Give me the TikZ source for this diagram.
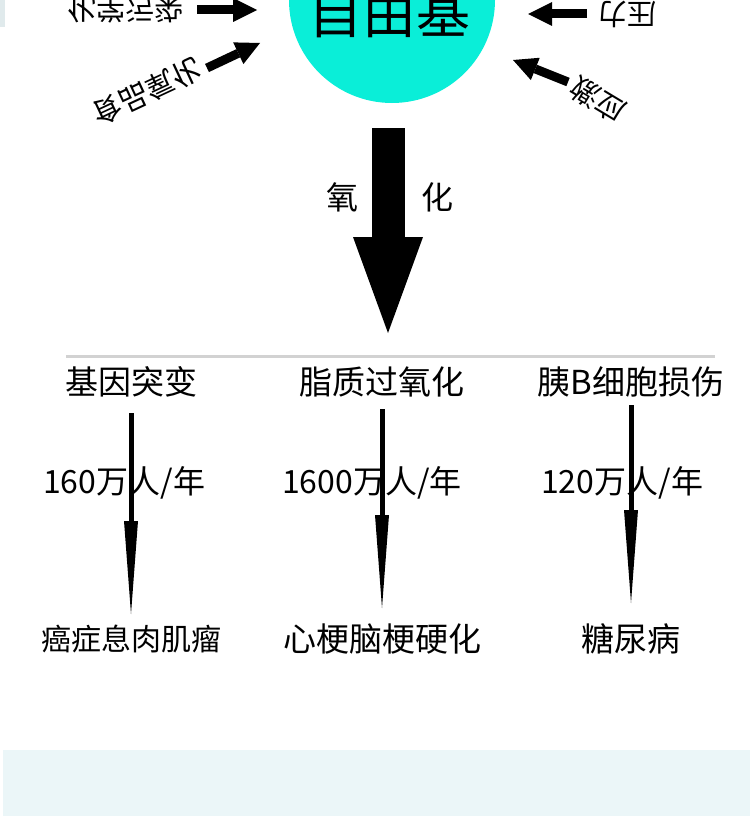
\documentclass[tikz,border=0pt]{standalone}
\usepackage{fontspec}
\setmainfont{Noto Sans CJK SC}
\usetikzlibrary{arrows.meta}

\definecolor{radical}{RGB}{10,238,216}
\definecolor{bandblue}{RGB}{235,246,248}

\begin{document}
\begin{tikzpicture}[x=1pt,y=-1pt,
    lbl/.style={inner sep=0pt,font=\fontsize{33}{33}\selectfont},
    numlbl/.style={inner sep=0pt,anchor=west,font=\fontsize{32}{32}\selectfont},
    sidelbl/.style={inner sep=0pt,font=\fontsize{29}{29}\selectfont},
    sidearrow/.style={line width=9pt,-{Triangle[length=24pt,width=24pt,line width=0pt]}},
    thinarrow/.style={line width=5pt,-{Triangle[length=93pt,width=14pt,line width=0pt]}}]
    \useasboundingbox (0,0) rectangle (750,816);
    \clip (0,0) rectangle (750,816);

    % Free radical circle (cut by the top edge)
    \node[circle,fill=radical,minimum size=206pt,inner sep=0pt] (circ) at (392,0) {};
    \node[inner sep=0pt,font=\fontsize{54}{54}\selectfont] (zi) at (389,13) {自由基};

    % Causes around the circle
    \node[sidelbl,yscale=-1] (chem) at (125,10) {化学污染};
    \node[sidelbl,rotate=25,yscale=-1] (food) at (147,92) {食品氧化};
    \node[sidelbl,rotate=180] (press) at (627,14) {压力};
    \node[sidelbl,rotate=149] (stress) at (598,100) {应激};

    \coordinate (chemTail) at (197,10);   \coordinate (chemTip) at (257,10);
    \coordinate (foodTail) at (207,68);   \coordinate (foodTip) at (260,43);
    \coordinate (pressTail) at (587,14);  \coordinate (pressTip) at (528,14);
    \coordinate (stressTail) at (568,82); \coordinate (stressTip) at (513,60);
    \draw[sidearrow] (chemTail) -- (chemTip);
    \draw[sidearrow] (foodTail) -- (foodTip);
    \draw[sidearrow] (pressTail) -- (pressTip);
    \draw[sidearrow] (stressTail) -- (stressTip);

    % Oxidation arrow
    \coordinate (oxTop) at (388,128);
    \coordinate (oxTip) at (388,333);
    \draw[line width=33pt,-{Triangle[length=96pt,width=70pt,line width=0pt]}] (oxTop) -- (oxTip);
    \node[inner sep=0pt,font=\fontsize{32}{32}\selectfont] (yang) at (342,197) {氧};
    \node[inner sep=0pt,font=\fontsize{32}{32}\selectfont] (hua) at (437,197) {化};

    % Divider
    \draw[gray!35,line width=3pt] (66,356) -- (715,356);

    % Damage, rate and disease columns
    \node[lbl] (h1) at (131,382) {基因突变};
    \node[lbl] (h2) at (382,382) {脂质过氧化};
    \node[lbl] (h3) at (631,382) {胰B细胞损伤};

    \node[numlbl] (n1) at (43,483) {160万人/年};
    \node[numlbl] (n2) at (282,483) {1600万人/年};
    \node[numlbl] (n3) at (541,483) {120万人/年};

    \node[lbl,font=\fontsize{30}{30}\selectfont] (d1) at (131,639) {癌症息肉肌瘤};
    \node[lbl] (d2) at (382,639) {心梗脑梗硬化};
    \node[lbl] (d3) at (631,639) {糖尿病};

    \coordinate (a1) at (131,413); \coordinate (b1) at (131,614);
    \coordinate (a2) at (382,409); \coordinate (b2) at (382,608);
    \coordinate (a3) at (631,405); \coordinate (b3) at (631,603);
    \draw[thinarrow] (a1) -- (b1);
    \draw[thinarrow] (a2) -- (b2);
    \draw[thinarrow] (a3) -- (b3);

    % Bottom band
    \fill[bandblue] (3,750) rectangle (750,816);
    \fill[bandblue!90!gray] (0,0) rectangle (5,27);
\end{tikzpicture}
\end{document}
